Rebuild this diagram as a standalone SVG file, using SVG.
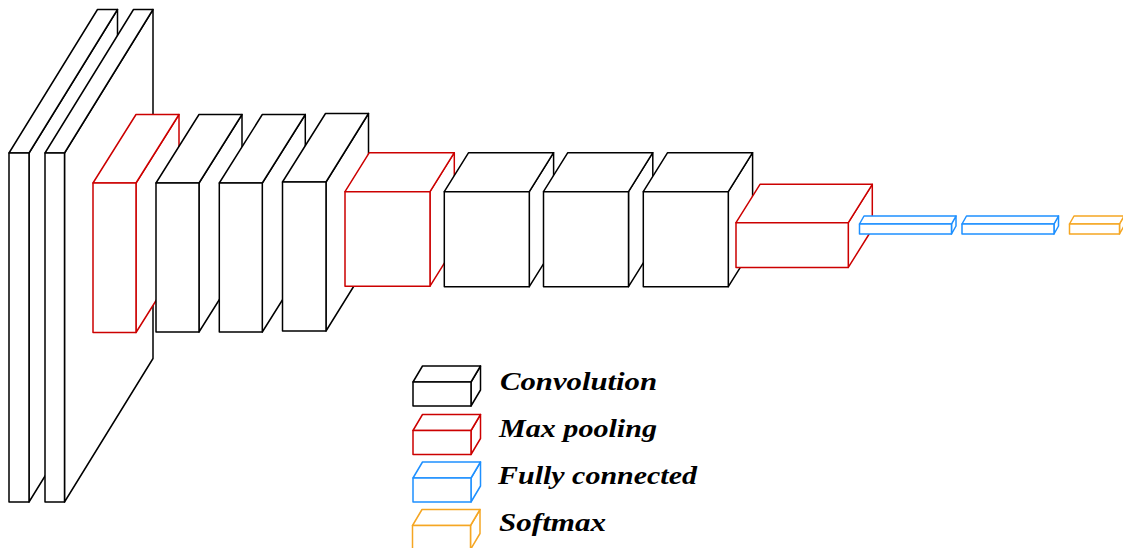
<svg xmlns="http://www.w3.org/2000/svg" width="1123" height="548" viewBox="0 0 1123 548">
  <style>
    polygon, rect { fill: #ffffff; stroke-width: 1.5; stroke-linejoin: round; }
    .conv polygon, .conv rect { stroke: #000000; }
    .pool polygon, .pool rect { stroke: #cc0000; }
    .fc polygon, .fc rect { stroke: #1e90ff; }
    .soft polygon, .soft rect { stroke: #f5a623; }
    .label { font-family: "Liberation Serif", "Times New Roman", serif; font-weight: bold; font-style: italic; font-size: 25px; fill: #000000; }
  </style>
  <rect x="0" y="0" width="1123" height="548" style="fill:#ffffff;stroke:none"/>

  <!-- network layers, painted back to front (left to right) -->
  <g id="layers">
    <!-- input slab 1: front (9,153) 20x349, depth offset (88.5,-143.5) -->
    <g id="input1" class="conv">
      <polygon points="29,153 117.5,9.5 117.5,358.5 29,502"/>
      <polygon points="9,153 97.5,9.5 117.5,9.5 29,153"/>
      <rect x="9" y="153" width="20" height="349"/>
    </g>
    <!-- input slab 2 -->
    <g id="input2" class="conv">
      <polygon points="64.5,153 153,9.5 153,358.5 64.5,502"/>
      <polygon points="45,153 133.5,9.5 153,9.5 64.5,153"/>
      <rect x="45" y="153" width="19.5" height="349"/>
    </g>
    <!-- pooling 1: front (93,183) 43x149.5, offset (43,-68.5) -->
    <g id="pool1" class="pool">
      <polygon points="136,183 179,114.5 179,264 136,332.5"/>
      <polygon points="93,183 136,114.5 179,114.5 136,183"/>
      <rect x="93" y="183" width="43" height="149.5"/>
    </g>
    <!-- convolution 1 -->
    <g id="conv1" class="conv">
      <polygon points="199,183 242,114.5 242,263.5 199,332"/>
      <polygon points="156,183 199,114.5 242,114.5 199,183"/>
      <rect x="156" y="183" width="43" height="149"/>
    </g>
    <!-- convolution 2 -->
    <g id="conv2" class="conv">
      <polygon points="262.3,183 305.3,114.5 305.3,263.5 262.3,332"/>
      <polygon points="219.3,183 262.3,114.5 305.3,114.5 262.3,183"/>
      <rect x="219.3" y="183" width="43" height="149"/>
    </g>
    <!-- convolution 3 -->
    <g id="conv3" class="conv">
      <polygon points="326,182 368.5,113.5 368.5,262.5 326,331"/>
      <polygon points="282.5,182 325.5,113.5 368.5,113.5 326,182"/>
      <rect x="282.5" y="182" width="43.5" height="149"/>
    </g>
    <!-- pooling 2: front (345,191.7) 85x94.5, offset (24.3,-39) -->
    <g id="pool2" class="pool">
      <polygon points="430,191.7 454.3,152.7 454.3,247.2 430,286.2"/>
      <polygon points="345,191.7 369.3,152.7 454.3,152.7 430,191.7"/>
      <rect x="345" y="191.7" width="85" height="94.5"/>
    </g>
    <!-- convolution 4 -->
    <g id="conv4" class="conv">
      <polygon points="529.3,191.7 553.6,152.7 553.6,247.7 529.3,286.7"/>
      <polygon points="444.3,191.7 468.6,152.7 553.6,152.7 529.3,191.7"/>
      <rect x="444.3" y="191.7" width="85" height="95"/>
    </g>
    <!-- convolution 5 -->
    <g id="conv5" class="conv">
      <polygon points="628.5,191.7 652.8,152.7 652.8,247.7 628.5,286.7"/>
      <polygon points="543.5,191.7 567.8,152.7 652.8,152.7 628.5,191.7"/>
      <rect x="543.5" y="191.7" width="85" height="95"/>
    </g>
    <!-- convolution 6 -->
    <g id="conv6" class="conv">
      <polygon points="728.3,191.7 752.6,152.7 752.6,247.7 728.3,286.7"/>
      <polygon points="643.3,191.7 667.6,152.7 752.6,152.7 728.3,191.7"/>
      <rect x="643.3" y="191.7" width="85" height="95"/>
    </g>
    <!-- pooling 3: front (736,222.7) 112.3x44.7, offset (24,-38.4) -->
    <g id="pool3" class="pool">
      <polygon points="848.3,222.7 872.3,184.3 872.3,229 848.3,267.4"/>
      <polygon points="736,222.7 760,184.3 872.3,184.3 848.3,222.7"/>
      <rect x="736" y="222.7" width="112.3" height="44.7"/>
    </g>
    <!-- fully connected 1 -->
    <g id="fc1" class="fc">
      <polygon points="951.5,224 956,216 956,226 951.5,234"/>
      <polygon points="859.5,224 864,216 956,216 951.5,224"/>
      <rect x="859.5" y="224" width="92" height="10"/>
    </g>
    <!-- fully connected 2 -->
    <g id="fc2" class="fc">
      <polygon points="1054,224 1058.5,216 1058.5,226 1054,234"/>
      <polygon points="962,224 966.5,216 1058.5,216 1054,224"/>
      <rect x="962" y="224" width="92" height="10"/>
    </g>
    <!-- softmax -->
    <g id="softmax" class="soft">
      <polygon points="1119.5,224 1124,216 1124,226 1119.5,234"/>
      <polygon points="1069.5,224 1074,216 1124,216 1119.5,224"/>
      <rect x="1069.5" y="224" width="50" height="10"/>
    </g>
  </g>

  <!-- legend: 58x24 boxes with offset (9.5,-16) -->
  <g id="legend">
    <g id="legend-conv" class="conv">
      <polygon points="471,382 480.5,366 480.5,390 471,406"/>
      <polygon points="413,382 422.5,366 480.5,366 471,382"/>
      <rect x="413" y="382" width="58" height="24"/>
      <text class="label" x="500" y="390" textLength="157" lengthAdjust="spacingAndGlyphs">Convolution</text>
    </g>
    <g id="legend-pool" class="pool">
      <polygon points="471,430.5 480.5,414.5 480.5,438.5 471,454.5"/>
      <polygon points="413,430.5 422.5,414.5 480.5,414.5 471,430.5"/>
      <rect x="413" y="430.5" width="58" height="24"/>
      <text class="label" x="499" y="437" textLength="158" lengthAdjust="spacingAndGlyphs">Max pooling</text>
    </g>
    <g id="legend-fc" class="fc">
      <polygon points="471,478 480.5,462 480.5,486 471,502"/>
      <polygon points="413,478 422.5,462 480.5,462 471,478"/>
      <rect x="413" y="478" width="58" height="24"/>
      <text class="label" x="498" y="484" textLength="199" lengthAdjust="spacingAndGlyphs">Fully connected</text>
    </g>
    <g id="legend-softmax" class="soft">
      <polygon points="470.5,525.5 480,509.5 480,533.5 470.5,549.5"/>
      <polygon points="412.5,525.5 422,509.5 480,509.5 470.5,525.5"/>
      <rect x="412.5" y="525.5" width="58" height="24"/>
      <text class="label" x="499" y="531" textLength="107" lengthAdjust="spacingAndGlyphs">Softmax</text>
    </g>
  </g>
</svg>
